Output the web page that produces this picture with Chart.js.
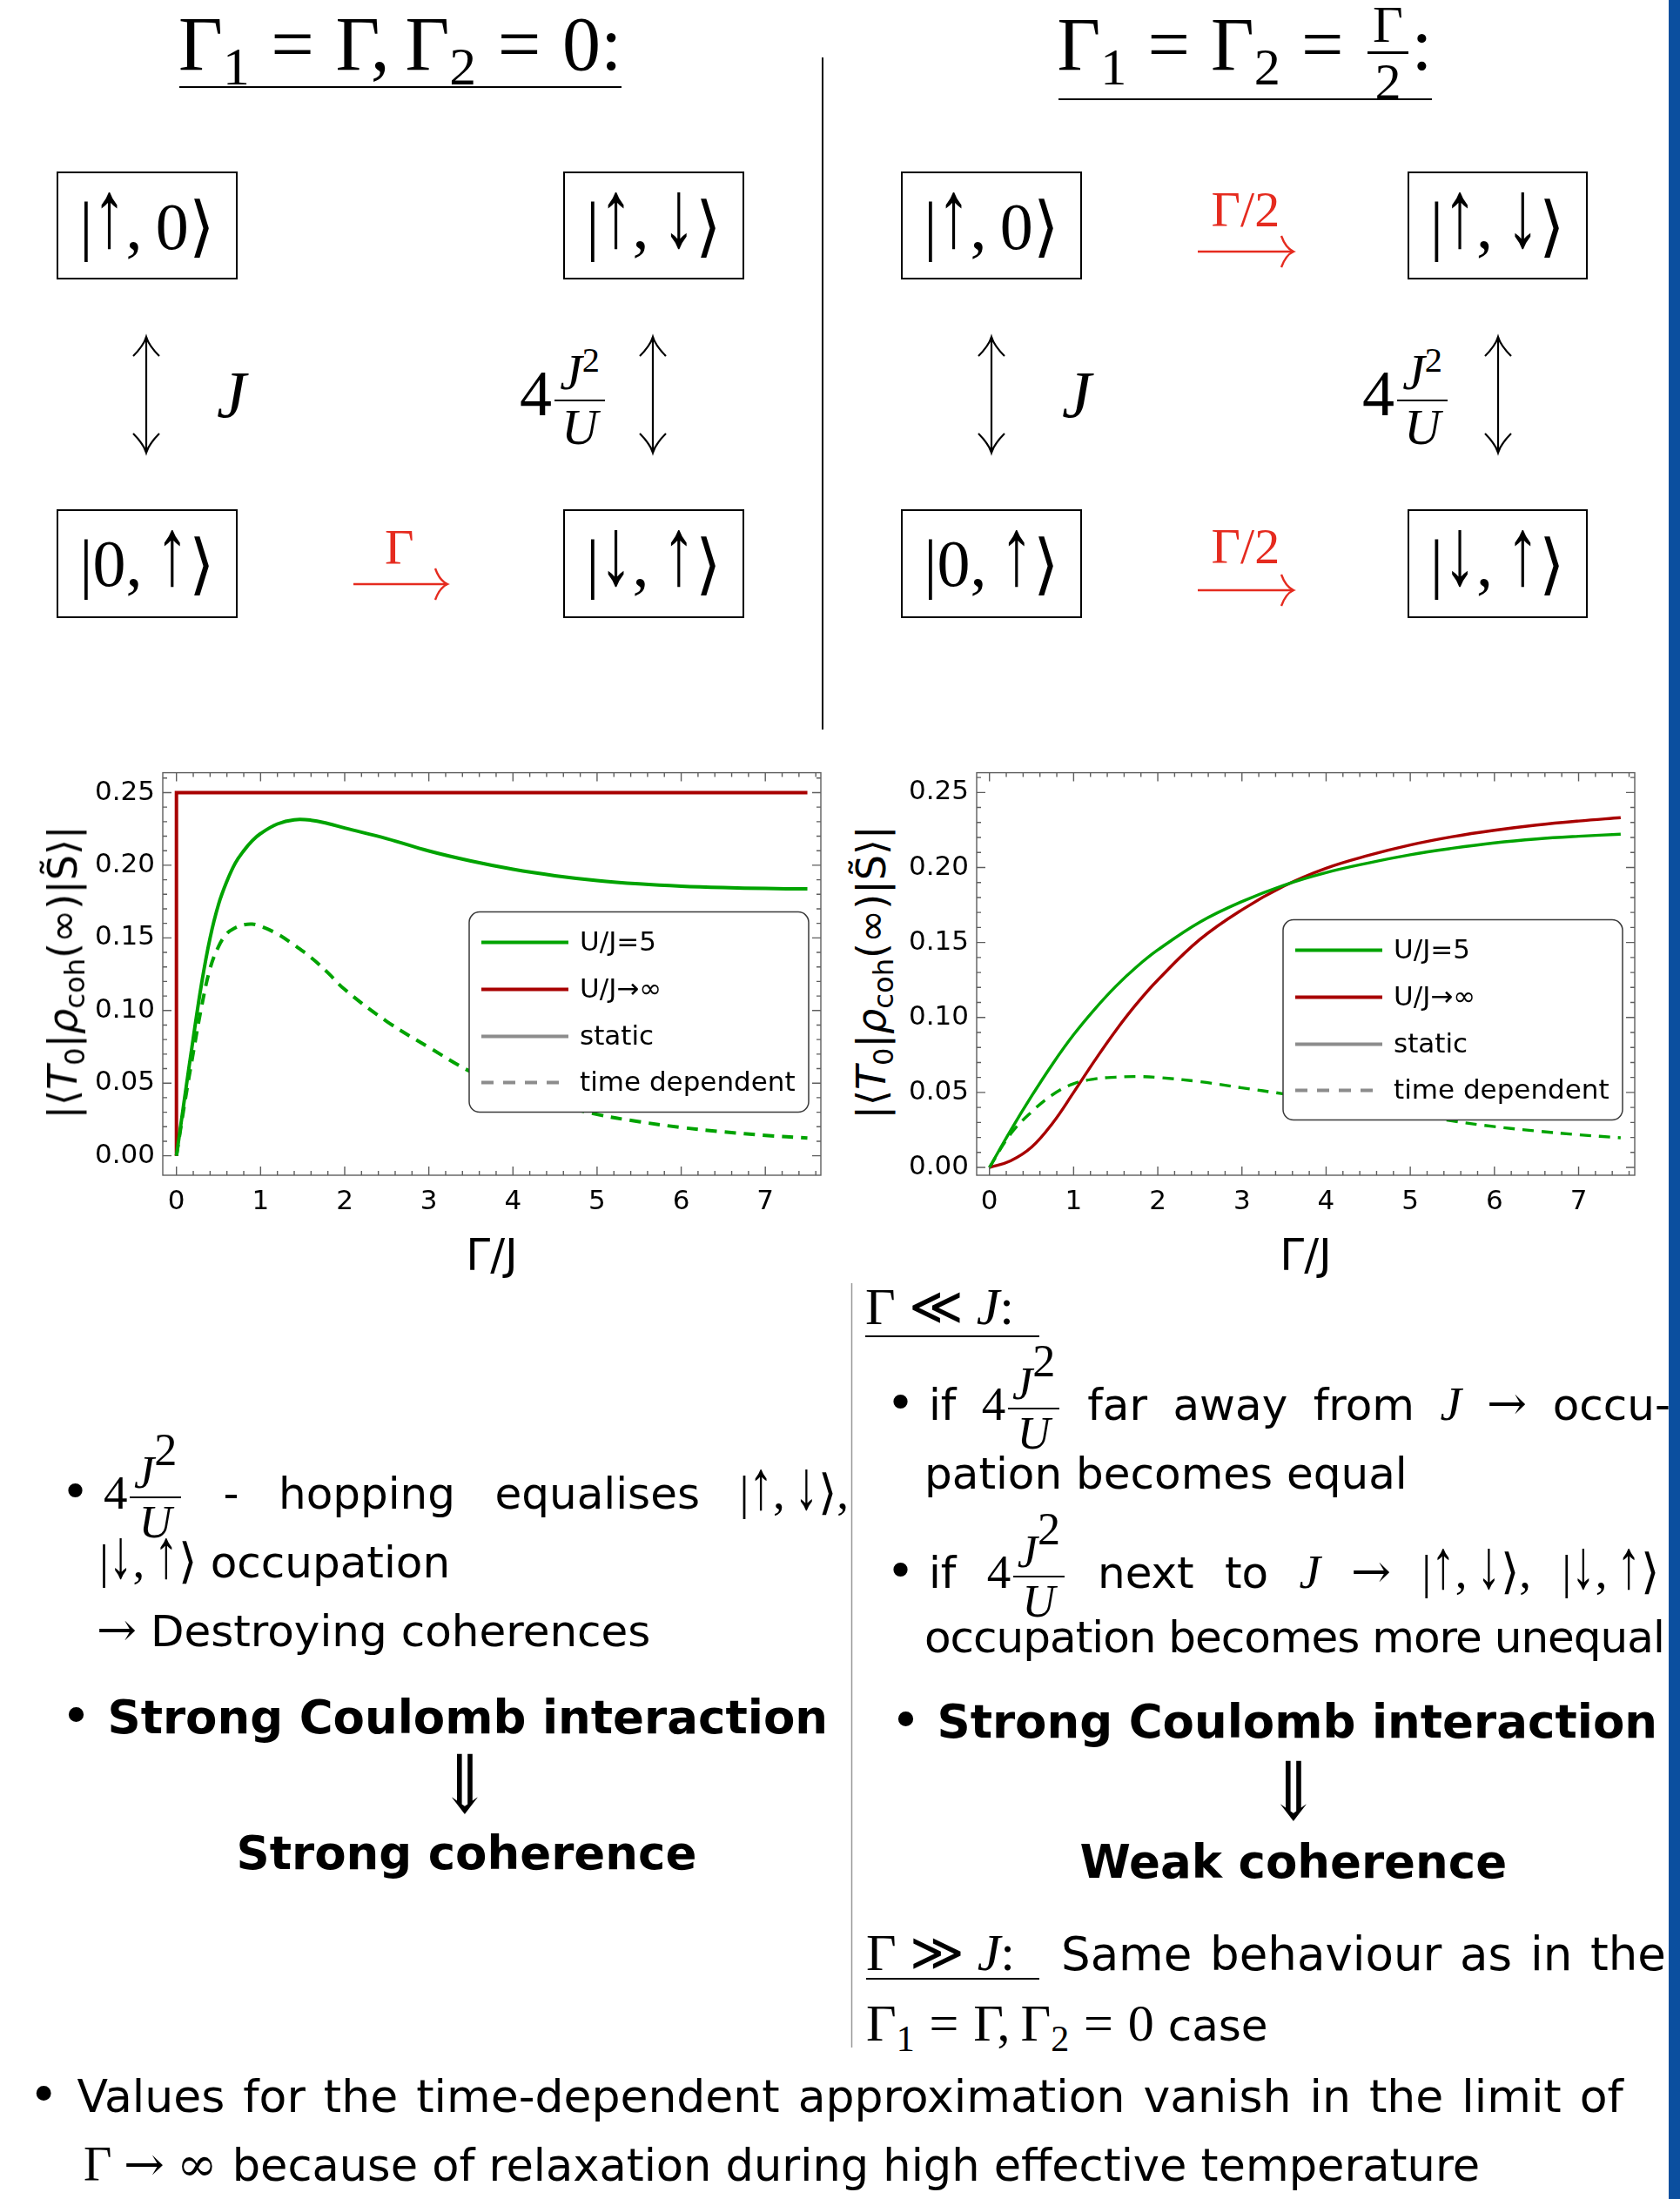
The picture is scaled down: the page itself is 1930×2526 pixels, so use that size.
<!DOCTYPE html>
<html>
<head>
<meta charset="utf-8">
<script src="https://cdn.jsdelivr.net/npm/chart.js@4.4.1/dist/chart.umd.min.js"></script>
<style>
  @font-face { font-family: "MathSym"; src: local("DejaVu Serif"); unicode-range: U+2192, U+21D3, U+221E, U+226A-226B, U+27E8-27E9; }
  html, body { margin: 0; padding: 0; background: #fff; }
  body { width: 1930px; height: 2526px; position: relative; overflow: hidden; color: #000; }
  .abs { position: absolute; white-space: nowrap; line-height: 1; }
  .m { font-family: "MathSym", "Liberation Serif", "DejaVu Serif", serif; }
  .tx { font-family: "DejaVu Sans", sans-serif; font-size: 50px; }
  .bd { font-family: "DejaVu Sans", sans-serif; font-size: 53px; font-weight: bold; }
  .tx .m, .bd .m { font-size: 1.1em; }
  .bu { font-size: 1.12em; font-weight: normal; line-height: 0; }
  .eq { margin: 0 .28em; }
  .ud { display: inline-block; transform: scaleY(1.45); transform-origin: 50% 85%; }
  .dn { display: inline-block; transform: scale(1.15, 1.5); transform-origin: 50% 90%; }
  .j { display: flex; justify-content: space-between; align-items: baseline; }
  sub { font-size: .7em; vertical-align: -.28em; line-height: 0; }
  sup { font-size: .7em; vertical-align: .5em; line-height: 0; }
  .frac { display: inline-flex; flex-direction: column; align-items: center; vertical-align: middle; font-size: .78em; line-height: 1.05; margin: 0 .06em; }
  .frac > span { padding: 0 .1em; }
  .frac > span:first-child { border-bottom: .05em solid currentColor; }
  .tx .frac { font-size: .95em; }
  .box { position: absolute; border: 2px solid #000; box-sizing: border-box; display: flex; align-items: center; justify-content: center; font-size: 76px; white-space: nowrap; }
  .red { color: #e52b1f; }
  .mk { display: inline-block; width: 0; height: 0; vertical-align: baseline; }
  .ytitle { position: absolute; white-space: nowrap; font-family: "DejaVu Sans", sans-serif; font-size: 46px; transform: translate(-50%, -50%) rotate(-90deg); line-height: 1; }
  canvas { position: absolute; }
  #bar { position: absolute; left: 1917px; top: 0; width: 13px; height: 2526px; background: #0b4f9f; z-index: 5; }
  svg { position: absolute; left: 0; top: 0; }
</style>
</head>
<body>

<svg id="deco" width="1930" height="2526"></svg>

<!-- headings -->
<div class="abs m" data-cx="460" data-b="80" style="font-size:88px">Γ<sub>1</sub><span class="eq">=</span>Γ,&thinsp;Γ<sub>2</sub><span class="eq">=</span>0:</div>
<div class="abs m" data-cx="1430" data-b="80" style="font-size:86px">Γ<sub>1</sub><span class="eq">=</span>Γ<sub>2</sub><span class="eq">=</span><span class="frac" style="font-size:.7em"><span>Γ</span><span>2</span></span>:</div>

<!-- state boxes, left scheme -->
<div class="box m" style="left:65px;top:197px;width:208px;height:124px">|↑,&thinsp;0⟩</div>
<div class="box m" style="left:647px;top:197px;width:208px;height:124px">|↑,&thinsp;↓⟩</div>
<div class="box m" style="left:65px;top:585px;width:208px;height:125px">|0,&thinsp;↑⟩</div>
<div class="box m" style="left:647px;top:585px;width:208px;height:125px">|↓,&thinsp;↑⟩</div>
<!-- state boxes, right scheme -->
<div class="box m" style="left:1035px;top:197px;width:208px;height:124px">|↑,&thinsp;0⟩</div>
<div class="box m" style="left:1617px;top:197px;width:207px;height:124px">|↑,&thinsp;↓⟩</div>
<div class="box m" style="left:1035px;top:585px;width:208px;height:125px">|0,&thinsp;↑⟩</div>
<div class="box m" style="left:1617px;top:585px;width:207px;height:125px">|↓,&thinsp;↑⟩</div>

<div class="abs m" data-cx="266" data-b="479" style="font-size:76px"><i>J</i></div>
<div class="abs m" data-x="597" data-b="477" style="font-size:74px">4<span class="frac"><span><i>J</i><sup>2</sup></span><span><i>U</i></span></span></div>
<div class="abs m" data-cx="1237" data-b="479" style="font-size:76px"><i>J</i></div>
<div class="abs m" data-x="1565" data-b="477" style="font-size:74px">4<span class="frac"><span><i>J</i><sup>2</sup></span><span><i>U</i></span></span></div>

<div class="abs m red" data-cx="459" data-b="648" style="font-size:58px">Γ</div>
<div class="abs m red" data-cx="1431" data-b="260" style="font-size:58px">Γ/2</div>
<div class="abs m red" data-cx="1431" data-b="647" style="font-size:58px">Γ/2</div>

<!-- plots -->
<canvas id="leftChart" width="860" height="620" style="left:100px;top:860px"></canvas>
<canvas id="rightChart" width="860" height="620" style="left:1035px;top:860px"></canvas>
<div class="ytitle" style="left:72px;top:1117px">|⟨<i>T</i><sub>0</sub>|<i>ρ</i><sub>coh</sub>(∞)|S̃⟩|</div>
<div class="ytitle" style="left:1001px;top:1117px">|⟨<i>T</i><sub>0</sub>|<i>ρ</i><sub>coh</sub>(∞)|S̃⟩|</div>

<!-- left column text -->
<div class="abs tx j" data-x="70" data-w="905" data-b="1733"><span><span class="bu">•</span>&nbsp;<span class="m">4</span><span class="frac"><span><i class="m">J</i><sup class="m">2</sup></span><span><i class="m">U</i></span></span></span><span>-</span><span>hopping</span><span>equalises</span><span class="m">|↑,&thinsp;↓⟩,</span></div>
<div class="abs tx" data-x="114" data-b="1812"><span class="m">|↓,&thinsp;↑⟩</span> occupation</div>
<div class="abs tx" data-x="111" data-b="1891"><span class="m">→</span> Destroying coherences</div>
<div class="abs bd" data-x="70" data-b="1991"><span class="bu">•</span> Strong Coulomb interaction</div>
<div class="abs m" data-cx="534" data-b="2084" style="font-size:62px"><span class="dn">⇓</span></div>
<div class="abs bd" data-cx="536" data-b="2147">Strong coherence</div>

<!-- right column text -->
<div class="abs m" data-x="994" data-b="1521" style="font-size:60px">Γ ≪ <i>J</i>:</div>
<div class="abs tx j" data-x="1018" data-w="901" data-b="1631"><span><span class="bu">•</span>&nbsp;if</span><span><span class="m">4</span><span class="frac"><span><i class="m">J</i><sup class="m">2</sup></span><span><i class="m">U</i></span></span></span><span>far</span><span>away</span><span>from</span><i class="m">J</i><span class="m">→</span><span>occu-</span></div>
<div class="abs tx" data-x="1062" data-b="1710">pation becomes equal</div>
<div class="abs tx j" data-x="1018" data-w="888" data-b="1824"><span><span class="bu">•</span>&nbsp;if</span><span><span class="m">4</span><span class="frac"><span><i class="m">J</i><sup class="m">2</sup></span><span><i class="m">U</i></span></span></span><span>next</span><span>to</span><i class="m">J</i><span class="m">→</span><span class="m">|↑,&thinsp;↓⟩,</span><span class="m">|↓,&thinsp;↑⟩</span></div>
<div class="abs tx" data-x="1062" data-b="1898" style="letter-spacing:-1px">occupation becomes more unequal</div>
<div class="abs bd" data-x="1023" data-b="1996"><span class="bu">•</span> Strong Coulomb interaction</div>
<div class="abs m" data-cx="1486" data-b="2092" style="font-size:62px"><span class="dn">⇓</span></div>
<div class="abs bd" data-cx="1486" data-b="2157">Weak coherence</div>
<div class="abs m" data-x="995" data-b="2263" style="font-size:60px">Γ ≫ <i>J</i>:</div>
<div class="abs tx j words" data-x="1219" data-w="695" data-b="2263" style="font-size:53px">Same behaviour as in the</div>
<div class="abs tx" data-x="995" data-b="2344"><span class="m" style="font-size:1.2em">Γ<sub>1</sub><span class="eq">=</span>Γ,&thinsp;Γ<sub>2</sub><span class="eq">=</span>0</span> case</div>

<!-- bottom text -->
<div class="abs tx j words" data-x="33" data-w="1832" data-b="2426" style="font-size:52px">• Values for the time-dependent approximation vanish in the limit of</div>
<div class="abs tx" data-x="96" data-b="2505" style="font-size:51px"><span class="m">Γ → ∞</span> because of relaxation during high effective temperature</div>

<div id="bar"></div>

<script>
// axis ticks
const xTickValues = [0, 1, 2, 3, 4, 5, 6, 7];
const yTickValues = [0, 0.05, 0.1, 0.15, 0.2, 0.25];
const yTickLabels = ['0.00', '0.05', '0.10', '0.15', '0.20', '0.25'];
const legendLabels = ['U/J=5', 'U/J→∞', 'static', 'time dependent'];

// left plot: Γ1 = Γ, Γ2 = 0
const leftGammaJ = [0, 0.1, 0.2, 0.3, 0.4, 0.5, 0.6, 0.7, 0.8, 0.9, 1.0, 1.2, 1.4, 1.6, 1.8, 2.0, 2.5, 3.0, 3.5, 4.0, 4.5, 5.0, 5.5, 6.0, 6.5, 7.0, 7.5];
const leftStatic5 = [0, 0.041, 0.081, 0.119, 0.150, 0.173, 0.189, 0.2015, 0.210, 0.2168, 0.2218, 0.2284, 0.2313, 0.231, 0.2287, 0.2256, 0.2183, 0.2098, 0.2029, 0.1972, 0.1928, 0.1895, 0.1872, 0.1856, 0.1846, 0.1840, 0.1837];
const leftTimeDep5 = [0, 0.037, 0.071, 0.103, 0.129, 0.144, 0.153, 0.157, 0.159, 0.1595, 0.158, 0.1527, 0.145, 0.1365, 0.126, 0.1145, 0.0925, 0.0747, 0.0578, 0.0455, 0.036, 0.0285, 0.0235, 0.0195, 0.0165, 0.014, 0.0122];
const leftInfGammaJ = [0, 0, 7.5];
const leftStaticInf = [0, 0.25, 0.25];

// right plot: Γ1 = Γ2 = Γ/2
const rightGammaJ = [0, 0.25, 0.5, 0.75, 1.0, 1.25, 1.5, 1.75, 2.0, 2.5, 3.0, 3.5, 4.0, 4.5, 5.0, 5.5, 6.0, 6.5, 7.0, 7.5];
const rightStatic5 = [0, 0.0245, 0.0475, 0.069, 0.0885, 0.1055, 0.1207, 0.1338, 0.1450, 0.1636, 0.1773, 0.1882, 0.1966, 0.2030, 0.2085, 0.2128, 0.2164, 0.2190, 0.2208, 0.2222];
const rightStaticInf = [0, 0.0044, 0.0135, 0.0295, 0.0500, 0.0712, 0.0912, 0.1092, 0.1250, 0.1520, 0.1718, 0.1876, 0.1995, 0.2080, 0.2150, 0.2205, 0.2248, 0.2283, 0.2310, 0.2332];
const rightTimeDep5 = [0, 0.0222, 0.037, 0.0485, 0.0558, 0.059, 0.0602, 0.0606, 0.060, 0.0572, 0.0531, 0.049, 0.0445, 0.040, 0.0355, 0.031, 0.0272, 0.0243, 0.0218, 0.0198];

const GREEN = '#00a300';
const RED = '#a80000';
const GRAY = '#8c8c8c';

const points = (xs, ys) => xs.map((x, i) => ({ x: x, y: ys[i] }));

// Mathematica-like frame: box, inward ticks on all sides, legend panel
const mmaFrame = {
  id: 'mmaFrame',
  afterDraw(chart, args, opts) {
    const { ctx, chartArea: a, scales: { x, y } } = chart;
    ctx.save();
    ctx.strokeStyle = '#5e5e5e';
    ctx.lineWidth = 1.4;
    ctx.strokeRect(a.left, a.top, a.width, a.height);
    ctx.beginPath();
    for (let i = 0; i <= 38; i++) {
      const px = x.getPixelForValue(i * 0.2);
      if (px > a.right) break;
      const len = i % 5 === 0 ? 10 : 5;
      ctx.moveTo(px, a.bottom); ctx.lineTo(px, a.bottom - len);
      ctx.moveTo(px, a.top); ctx.lineTo(px, a.top + len);
    }
    for (let i = 0; i <= 26; i++) {
      const py = y.getPixelForValue(i * 0.01);
      if (py < a.top) break;
      const len = i % 5 === 0 ? 10 : 5;
      ctx.moveTo(a.left, py); ctx.lineTo(a.left + len, py);
      ctx.moveTo(a.right, py); ctx.lineTo(a.right - len, py);
    }
    ctx.stroke();

    // legend
    const bx = a.left + opts.dx, by = a.top + opts.dy, bw = 390, bh = 230;
    ctx.fillStyle = '#fff';
    ctx.strokeStyle = '#3a3a3a';
    ctx.lineWidth = 1.5;
    ctx.beginPath();
    ctx.roundRect(bx, by, bw, bh, 12);
    ctx.fill();
    ctx.stroke();
    const rows = [35, 89, 143, 196];
    const styles = [[GREEN, []], [RED, []], [GRAY, []], [GRAY, [14, 11]]];
    ctx.font = '31px "DejaVu Sans"';
    ctx.textBaseline = 'middle';
    legendLabels.forEach((lab, i) => {
      ctx.strokeStyle = styles[i][0];
      ctx.setLineDash(styles[i][1]);
      ctx.lineWidth = 4;
      ctx.beginPath();
      ctx.moveTo(bx + 14, by + rows[i]);
      ctx.lineTo(bx + 114, by + rows[i]);
      ctx.stroke();
      ctx.setLineDash([]);
      ctx.fillStyle = '#000';
      ctx.fillText(lab, bx + 127, by + rows[i] + 1);
    });
    ctx.restore();
  }
};

function makeChart(id, datasets, xMin, xMax, yMin, yMax, legendPos) {
  return new Chart(document.getElementById(id), {
    type: 'line',
    data: { datasets: datasets },
    options: {
      responsive: false,
      animation: false,
      devicePixelRatio: 1,
      layout: { padding: { left: 0, right: 17, top: 24, bottom: 0 } },
      elements: { point: { radius: 0 }, line: { borderCapStyle: 'butt', tension: 0.4 } },
      scales: {
        x: {
          type: 'linear', min: xMin, max: xMax,
          grid: { display: false, drawTicks: false },
          border: { display: false },
          afterBuildTicks: s => { s.ticks = xTickValues.map(v => ({ value: v })); },
          afterFit: s => { s.height = 130; },
          ticks: { padding: 12, color: '#000', font: { size: 31 } },
          title: { display: true, text: 'Γ/J', color: '#000', font: { size: 50 }, padding: { top: 0, bottom: 5 } }
        },
        y: {
          min: yMin, max: yMax,
          grid: { display: false, drawTicks: false },
          border: { display: false },
          afterBuildTicks: s => { s.ticks = yTickValues.map(v => ({ value: v })); },
          afterFit: s => { s.width = 87; },
          ticks: { padding: 9, color: '#000', font: { size: 31 }, callback: (v, i) => yTickLabels[i] }
        }
      },
      plugins: {
        legend: { display: false },
        tooltip: { enabled: false },
        mmaFrame: legendPos
      }
    },
    plugins: [mmaFrame]
  });
}

Chart.defaults.font.family = '"DejaVu Sans", sans-serif';

makeChart('leftChart', [
  { data: points(leftGammaJ, leftStatic5), borderColor: GREEN, borderWidth: 4 },
  { data: points(leftInfGammaJ, leftStaticInf), borderColor: RED, borderWidth: 4, tension: 0 },
  { data: points(leftGammaJ, leftTimeDep5), borderColor: GREEN, borderWidth: 4, borderDash: [13, 9] }
], -0.1625, 7.66, -0.0134, 0.2637, { dx: 352, dy: 160 });

makeChart('rightChart', [
  { data: points(rightGammaJ, rightStatic5), borderColor: GREEN, borderWidth: 3.4 },
  { data: points(rightGammaJ, rightStaticInf), borderColor: RED, borderWidth: 3.4 },
  { data: points(rightGammaJ, rightTimeDep5), borderColor: GREEN, borderWidth: 3.4, borderDash: [13, 9] }
], -0.152, 7.667, -0.0052, 0.2632, { dx: 352, dy: 169 });

// decoration: dividers, underlines, arrows
const svg = document.getElementById('deco');
const lines = [
  [945, 66, 945, 838, '#000', 2],
  [978.5, 1474, 978.5, 2352, '#999', 1.5],
  [206, 100, 714, 100, '#000', 2.2],
  [1216, 114, 1645, 114, '#000', 2.2],
  [994, 1535, 1194, 1535, '#000', 2],
  [995, 2273, 1194, 2273, '#000', 2]
];
let markup = '';
lines.forEach(l => {
  markup += `<line x1="${l[0]}" y1="${l[1]}" x2="${l[2]}" y2="${l[3]}" stroke="${l[4]}" stroke-width="${l[5]}"/>`;
});
[168, 750, 1139, 1721].forEach(x => {
  const t = 387, b = 520;
  markup += `<g fill="none" stroke="#000" stroke-width="2.2">` +
    `<line x1="${x}" y1="${t}" x2="${x}" y2="${b}"/>` +
    `<path d="M${x - 15} ${t + 22} Q${x - 3} ${t + 10} ${x} ${t} Q${x + 3} ${t + 10} ${x + 15} ${t + 22}"/>` +
    `<path d="M${x - 15} ${b - 22} Q${x - 3} ${b - 10} ${x} ${b} Q${x + 3} ${b - 10} ${x + 15} ${b - 22}"/></g>`;
});
[[406, 514, 671], [1376, 1486, 289], [1376, 1486, 678]].forEach(r => {
  const [x1, x2, y] = r;
  markup += `<g fill="none" stroke="#e52b1f" stroke-width="2.4">` +
    `<line x1="${x1}" y1="${y}" x2="${x2}" y2="${y}"/>` +
    `<path d="M${x2 - 14} ${y - 18} Q${x2 - 9} ${y - 4} ${x2} ${y} Q${x2 - 9} ${y + 4} ${x2 - 14} ${y + 18}"/></g>`;
});
svg.innerHTML = markup;

// taller up/down arrows like the TeX ones
document.querySelectorAll('.m').forEach(el => {
  if (/[↑↓]/.test(el.innerHTML)) el.innerHTML = el.innerHTML.replace(/[↑↓]/g, '<span class="ud">$&</span>');
});

// place text lines on their baselines
document.querySelectorAll('.words').forEach(el => {
  el.innerHTML = el.textContent.split(' ')
    .map(w => w === '•' ? '<span class="bu">•</span>' : `<span>${w}</span>`).join('');
});
document.querySelectorAll('[data-b]').forEach(el => {
  if (el.dataset.w) el.style.width = el.dataset.w + 'px';
  el.style.top = '0px';
  if (el.dataset.x) el.style.left = el.dataset.x + 'px';
  if (el.dataset.cx) el.style.left = (el.dataset.cx - el.offsetWidth / 2) + 'px';
  const mk = document.createElement('span');
  mk.className = 'mk';
  const host = el.classList.contains('j') ? el.firstElementChild : el;
  host.prepend(mk);
  el.style.top = (el.dataset.b - mk.getBoundingClientRect().bottom) + 'px';
});
</script>
</body>
</html>
